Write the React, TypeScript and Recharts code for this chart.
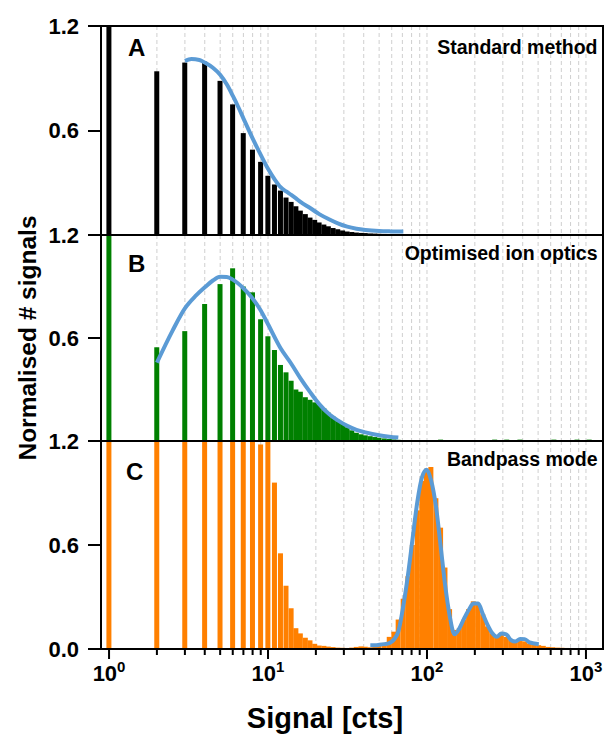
import React from 'react';
import { ComposedChart, Bar, Line, XAxis, YAxis, CartesianGrid } from 'recharts';

const FONT = '"Liberation Sans", Arial, sans-serif';
const FIT_COLOR = '#5b9bd5';

const X_DOMAIN = [0.89, 1280];
const Y_MAX = 1.2;
const ALL_TICKS = [1, 2, 3, 4, 5, 6, 7, 8, 9, 10, 20, 30, 40, 50, 60, 70, 80, 90, 100, 200, 300, 400, 500, 600, 700, 800, 900, 1000];
const DECADE_TICKS = [10, 100, 1000];

// Panel A - standard method (histogram + fit)
const STD_BIN = [1, 2, 3, 4, 5, 6, 7, 8, 9, 10, 11, 12, 13, 14, 15, 16, 17.2, 18.4, 19.7, 21, 22.5, 24, 25.7, 27.5, 29.5, 31.5, 33.7, 36, 38.5, 41, 44, 47, 50, 54, 58, 62, 66, 71];
const STD_COUNT = [1.6, 0.94, 0.99, 0.995, 0.885, 0.75, 0.585, 0.49, 0.42, 0.34, 0.29, 0.255, 0.215, 0.19, 0.165, 0.14, 0.12, 0.1, 0.087, 0.072, 0.06, 0.05, 0.04, 0.033, 0.026, 0.02, 0.017, 0.014, 0.012, 0.011, 0.009, 0.008, 0.007, 0.006, 0.005, 0.004, 0.003, 0.002];
const STD_FIT_X = [3, 3.3, 3.7, 4, 4.5, 5, 5.5, 6, 6.5, 7, 8, 9, 10, 11, 12, 13, 14, 15, 16, 18.4, 21, 24, 27.5, 31.5, 36, 41, 50, 58, 66, 71];
const STD_FIT_Y = [1.0, 1.01, 1.005, 0.99, 0.96, 0.92, 0.865, 0.8, 0.735, 0.67, 0.555, 0.46, 0.38, 0.32, 0.275, 0.25, 0.23, 0.21, 0.19, 0.155, 0.12, 0.092, 0.067, 0.048, 0.036, 0.029, 0.023, 0.021, 0.02, 0.02];

// Panel B - optimised ion optics
const OPT_BIN = [1, 2, 3, 4, 5, 6, 7, 8, 9, 10, 11, 12, 13, 14, 15, 16, 17.2, 18.4, 19.7, 21, 22.5, 24, 25.7, 27.5, 29.5, 31.5, 33.7, 36, 38.5, 41, 44, 47, 50, 54, 58, 62, 66, 71, 76, 122, 267, 318, 385, 630, 880, 1050];
const OPT_COUNT = [1.6, 0.546, 0.64, 0.798, 0.914, 1.006, 0.9, 0.866, 0.709, 0.61, 0.53, 0.443, 0.4, 0.351, 0.3, 0.287, 0.255, 0.24, 0.225, 0.21, 0.19, 0.165, 0.142, 0.12, 0.1, 0.08, 0.062, 0.048, 0.039, 0.033, 0.028, 0.023, 0.019, 0.015, 0.012, 0.009, 0.007, 0.005, 0.004, 0.008, 0.008, 0.008, 0.008, 0.008, 0.008, 0.008];
const OPT_FIT_X = [2, 2.5, 3, 3.5, 4, 4.5, 5, 5.5, 6, 7, 8, 9, 10, 12, 14, 16, 18.4, 21, 24, 27.5, 31.5, 36, 41, 50, 58, 66];
const OPT_FIT_Y = [0.456, 0.64, 0.773, 0.845, 0.895, 0.935, 0.957, 0.955, 0.94, 0.89, 0.83, 0.76, 0.68, 0.54, 0.45, 0.365, 0.285, 0.215, 0.16, 0.12, 0.088, 0.065, 0.05, 0.033, 0.025, 0.02];

// Panel C - bandpass mode
const BP_BIN = [1, 2, 3, 4, 5, 6, 7, 8, 9, 10, 11, 12, 13, 14, 15, 16, 17.2, 18.4, 19.7, 21, 22.5, 24, 25.7, 27.5, 29.5, 31.5, 33.7, 36, 38.5, 41, 44, 47, 50, 54, 58, 62, 66, 71, 76, 81, 87, 93, 99.5, 106, 114, 122, 130, 139, 149, 160, 171, 183, 196, 210, 225, 240, 257, 275, 294, 315, 337, 360, 385, 412, 441, 472, 505, 540, 578, 618, 661, 707, 756, 809, 866, 926, 991, 1060, 1134, 1213];
const BP_COUNT = [1.6, 1.6, 1.6, 1.6, 1.6, 1.6, 1.6, 1.6, 1.18, 1.6, 0.96, 0.552, 0.365, 0.235, 0.12, 0.09, 0.065, 0.05, 0.03, 0.02, 0.018, 0.014, 0.011, 0.008, 0.007, 0.006, 0.008, 0.012, 0.015, 0.013, 0.01, 0.015, 0.022, 0.035, 0.07, 0.1, 0.17, 0.29, 0.42, 0.6, 0.8, 0.97, 1.04, 1.05, 0.87, 0.7, 0.47, 0.23, 0.11, 0.12, 0.17, 0.23, 0.275, 0.26, 0.2, 0.13, 0.09, 0.075, 0.09, 0.07, 0.052, 0.045, 0.046, 0.044, 0.032, 0.026, 0.022, 0.018, 0.012, 0.01, 0.008, 0.007, 0.006, 0.005, 0.004, 0.004, 0.003, 0.003, 0.002, 0.002];
const BP_FIT_X = [44, 47, 50, 54, 58, 62, 66, 71, 76, 81, 87, 93, 99.5, 106, 114, 122, 130, 139, 149, 160, 171, 183, 196, 210, 225, 240, 257, 275, 294, 315, 337, 360, 385, 412, 441, 472, 505];
const BP_FIT_Y = [0.022, 0.022, 0.024, 0.028, 0.034, 0.055, 0.1, 0.25, 0.43, 0.63, 0.85, 0.99, 1.034, 0.975, 0.82, 0.59, 0.37, 0.19, 0.085, 0.12, 0.175, 0.225, 0.262, 0.262, 0.2, 0.14, 0.092, 0.07, 0.09, 0.085, 0.052, 0.043, 0.058, 0.057, 0.038, 0.032, 0.028];

type Point = { x: number; y: number };
const zip = (xs: number[], ys: number[]): Point[] => xs.map((x, i) => ({ x, y: ys[i] }));

// plot box inside every panel chart
const PLOT_LEFT = 101;
const PLOT_WIDTH = 502;
const PLOT_TOP = 20;
const FRAME = 2.5;
const Y_TICK_LEN = 13;

// bottom log axis tick: long mark + 10^n label on decades, short mark elsewhere
const LogTick = (props: any) => {
  const { x, y, payload } = props;
  const exp = Math.round(Math.log10(payload.value));
  const major = Math.abs(Math.log10(payload.value) - exp) < 1e-9;
  const len = major ? 10 : 6;
  return (
    <g>
      <rect x={x - 1} y={y} width={2} height={len} fill="#000" />
      {major && (
        <text x={x} y={y + 32} textAnchor="middle" fontFamily={FONT} fontWeight="bold" fontSize={22} fill="#000">
          10<tspan dy={-9} fontSize={15}>{exp}</tspan>
        </text>
      )}
    </g>
  );
};

const YTick = (props: any) => {
  const { x, y, payload } = props;
  return (
    <text x={x - Y_TICK_LEN - 9} y={y} dy="0.36em" textAnchor="end" fontFamily={FONT} fontWeight="bold" fontSize={22} fill="#000">
      {payload.value.toFixed(1)}
    </text>
  );
};

// histogram bar, widened by a pixel so neighbouring bins close up
const HistBar = (props: any) => {
  const { x, y, width, height, fill } = props;
  return <rect x={x - 0.5} y={y} width={width + 1} height={height} fill={fill} />;
};

interface PanelProps {
  top: number;
  plotHeight: number;
  bins: Point[];
  fit: Point[];
  color: string;
  yTicks: number[];
  bottomAxis?: boolean;
}

const Panel: React.FC<PanelProps> = ({ top, plotHeight, bins, fit, color, yTicks, bottomAxis }) => {
  const axisH = bottomAxis ? 93 : 0;
  return (
    <div style={{ position: 'absolute', left: 0, top }}>
      <ComposedChart
        width={609}
        height={PLOT_TOP + plotHeight + axisH}
        data={bins}
        margin={{ top: PLOT_TOP, right: 609 - PLOT_LEFT - PLOT_WIDTH, bottom: 0, left: 41 }}
      >
        <CartesianGrid horizontal={false} stroke="#cfcfcf" strokeDasharray="4 3" syncWithTicks />
        <CartesianGrid xAxisId="decade" horizontal={false} stroke="#9a9a9a" syncWithTicks />
        <XAxis
          dataKey="x"
          type="number"
          scale="log"
          domain={X_DOMAIN}
          allowDataOverflow
          ticks={ALL_TICKS}
          interval={0}
          hide={!bottomAxis}
          height={axisH}
          tickSize={0}
          tickMargin={0}
          tickLine={false}
          axisLine={false}
          tick={<LogTick />}
        />
        <XAxis
          xAxisId="decade"
          type="number"
          scale="log"
          domain={X_DOMAIN}
          allowDataOverflow
          ticks={DECADE_TICKS}
          interval={0}
          hide
        />
        <YAxis
          type="number"
          domain={[0, Y_MAX]}
          allowDataOverflow
          ticks={yTicks}
          interval={0}
          width={60}
          tickSize={0}
          tickMargin={0}
          tickLine={false}
          axisLine={false}
          tick={<YTick />}
        />
        <Bar dataKey="y" fill={color} barSize={4} shape={<HistBar />} isAnimationActive={false} />
        <Line
          data={fit}
          dataKey="y"
          type="monotone"
          stroke={FIT_COLOR}
          strokeWidth={4}
          dot={false}
          isAnimationActive={false}
        />
      </ComposedChart>
      {/* panel frame and y tick marks */}
      <div
        style={{
          position: 'absolute',
          left: PLOT_LEFT - FRAME / 2,
          top: PLOT_TOP - FRAME / 2,
          width: PLOT_WIDTH + FRAME,
          height: plotHeight + FRAME,
          border: `${FRAME}px solid #000`,
          boxSizing: 'border-box',
          pointerEvents: 'none',
        }}
      />
      {yTicks.map((v) => (
        <div
          key={v}
          style={{
            position: 'absolute',
            left: PLOT_LEFT - Y_TICK_LEN,
            top: PLOT_TOP + plotHeight * (1 - v / Y_MAX) - 1,
            width: Y_TICK_LEN,
            height: 2,
            background: '#000',
          }}
        />
      ))}
    </div>
  );
};

const textBold: React.CSSProperties = { position: 'absolute', fontFamily: FONT, fontWeight: 'bold', color: '#000', whiteSpace: 'nowrap' };

const PanelTitle = ({ text, top }: { text: string; top: number }) => (
  <div style={{ ...textBold, left: 300, width: 297.5, top, textAlign: 'right', fontSize: 19.5, lineHeight: '19.5px' }}>{text}</div>
);

const PanelLetter = ({ text, left, top }: { text: string; left: number; top: number }) => (
  <div style={{ ...textBold, left, top, fontSize: 24, lineHeight: '24px' }}>{text}</div>
);

const App: React.FC = () => (
  <div style={{ position: 'absolute', left: 0, top: 0, width: 609, height: 742, background: '#fff', overflow: 'hidden' }}>
    <Panel top={6} plotHeight={209} bins={zip(STD_BIN, STD_COUNT)} fit={zip(STD_FIT_X, STD_FIT_Y)} color="#000000" yTicks={[0.6, 1.2]} />
    <Panel top={215} plotHeight={206} bins={zip(OPT_BIN, OPT_COUNT)} fit={zip(OPT_FIT_X, OPT_FIT_Y)} color="#008000" yTicks={[0.6, 1.2]} />
    <Panel top={421} plotHeight={208} bins={zip(BP_BIN, BP_COUNT)} fit={zip(BP_FIT_X, BP_FIT_Y)} color="#ff8000" yTicks={[0, 0.6, 1.2]} bottomAxis />

    <PanelLetter text="A" left={128} top={36} />
    <PanelLetter text="B" left={128} top={252} />
    <PanelLetter text="C" left={126} top={460} />
    <PanelTitle text="Standard method" top={37.5} />
    <PanelTitle text="Optimised ion optics" top={244} />
    <PanelTitle text="Bandpass mode" top={450} />

    <div style={{ ...textBold, left: 28 - 160, top: 338 - 16, width: 320, height: 32, lineHeight: '32px', textAlign: 'center', fontSize: 24.5, transform: 'rotate(-90deg)' }}>
      Normalised # signals
    </div>
    <div style={{ ...textBold, left: 325 - 160, top: 718 - 17, width: 320, height: 34, lineHeight: '34px', textAlign: 'center', fontSize: 29 }}>
      Signal [cts]
    </div>
  </div>
);

export default App;
